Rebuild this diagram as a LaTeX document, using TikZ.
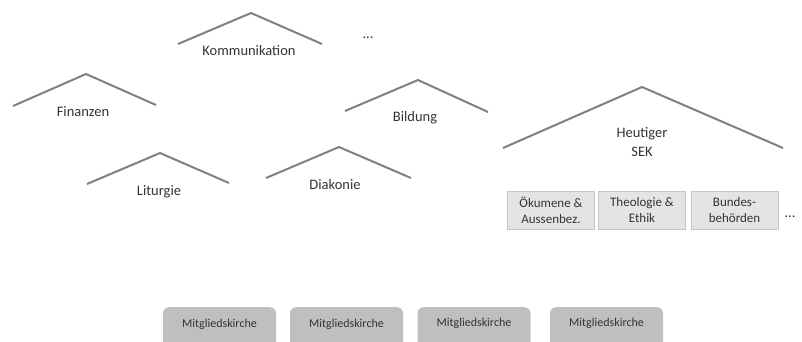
\documentclass[tikz,border=0pt]{standalone}
\usepackage{fontspec}
\setmainfont{Carlito}
\definecolor{roofc}{HTML}{808080}
\definecolor{txt}{HTML}{333333}
\definecolor{subfill}{HTML}{E4E4E4}
\definecolor{subdraw}{HTML}{C6C6C6}
\definecolor{kfill}{HTML}{BFBFBF}
\begin{document}
\begin{tikzpicture}[x=1pt,y=-1pt,
  roof/.style={draw=roofc,line width=2pt,line join=miter},
  lbl/.style={text=txt,font=\fontsize{14.5}{19}\selectfont,align=center,inner sep=0pt},
  subbox/.style={draw=subdraw,fill=subfill,line width=0.8pt,minimum width=87pt,minimum height=38pt,text=txt,font=\fontsize{13}{16}\selectfont,align=center,inner sep=0pt},
  kbox/.style={fill=kfill,rounded corners=6pt,minimum width=113pt,minimum height=50pt,anchor=north,text=txt,font=\fontsize{12}{14}\selectfont,inner sep=0pt}]
\useasboundingbox (0,0) rectangle (802,341);
\clip (0,0) rectangle (802,341);
% roofs
\coordinate (kL) at (178,44); \coordinate (kA) at (251,13); \coordinate (kR) at (322,44);
\draw[roof] (kL) -- (kA) -- (kR);
\node[lbl] (kom) at (249,51) {Kommunikation};
\node[lbl] (dots1) at (368,38) {...};
\coordinate (fL) at (13,106); \coordinate (fA) at (86,74); \coordinate (fR) at (156,105);
\draw[roof] (fL) -- (fA) -- (fR);
\node[lbl] (fin) at (83,112) {Finanzen};
\coordinate (lL) at (87,184); \coordinate (lA) at (160,153); \coordinate (lR) at (229,183);
\draw[roof] (lL) -- (lA) -- (lR);
\node[lbl] (lit) at (159,192) {Liturgie};
\coordinate (dL) at (266,178); \coordinate (dA) at (339,147); \coordinate (dR) at (411,178);
\draw[roof] (dL) -- (dA) -- (dR);
\node[lbl] (dia) at (335,185) {Diakonie};
\coordinate (bL) at (345,111); \coordinate (bA) at (418,80); \coordinate (bR) at (488,112);
\draw[roof] (bL) -- (bA) -- (bR);
\node[lbl] (bil) at (415,118) {Bildung};
\coordinate (sL) at (503,148); \coordinate (sA) at (642,87); \coordinate (sR) at (783,148);
\draw[roof] (sL) -- (sA) -- (sR);
\node[lbl] (sek) at (642,142) {Heutiger\\SEK};
% sub boxes
\node[subbox] (oek) at (551,210) {Ökumene \&\\Aussenbez.};
\node[subbox] (theo) at (642,210) {Theologie \&\\Ethik};
\node[subbox] (bund) at (734.5,210) {Bundes-\\behörden};
\node[lbl] (dots2) at (790,217) {...};
% member churches
\node[kbox] (m1) at (219.5,307) {\raisebox{-9pt}{}};
\node[text=txt,font=\fontsize{12}{14}\selectfont,inner sep=0pt] (t1) at (219.5,324) {Mitgliedskirche};
\node[kbox] (m2) at (346.5,307) {};
\node[text=txt,font=\fontsize{12}{14}\selectfont,inner sep=0pt] (t2) at (346.5,324) {Mitgliedskirche};
\node[kbox] (m3) at (474,307) {};
\node[text=txt,font=\fontsize{12}{14}\selectfont,inner sep=0pt] (t3) at (474,323) {Mitgliedskirche};
\node[kbox] (m4) at (606.5,307) {};
\node[text=txt,font=\fontsize{12}{14}\selectfont,inner sep=0pt] (t4) at (606.5,323) {Mitgliedskirche};
\end{tikzpicture}
\end{document}
